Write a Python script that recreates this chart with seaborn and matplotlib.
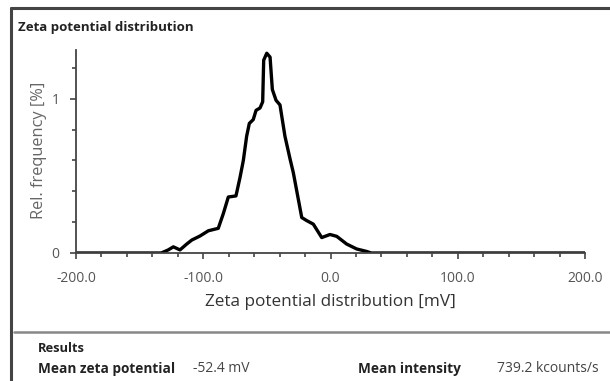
import matplotlib
matplotlib.use("Agg")
import matplotlib.pyplot as plt
import seaborn as sns
import pandas as pd
from matplotlib.lines import Line2D
from matplotlib.ticker import MultipleLocator

# ---- data ----
zeta_mv = [-200, -140, -133, -127.5, -123.5, -118.3, -113, -109, -102.6, -96,
           -88.2, -84.2, -80.3, -74.3, -71.1, -68.5, -65.9, -63.8, -60.7, -58.5,
           -55.4, -53.3, -52.5, -50.1, -47.5, -45.7, -42.8, -39.7, -35.8, -31.8,
           -29.2, -22.6, -18.7, -13.5, -6.9, -0.4, 4.9, 12.7, 20.6, 28.4, 32, 200]
rel_freq = [0, 0, 0.0, 0.02, 0.04, 0.02, 0.058, 0.084, 0.11, 0.144,
            0.16, 0.256, 0.363, 0.37, 0.49, 0.60, 0.757, 0.84, 0.865, 0.925,
            0.94, 0.98, 1.25, 1.295, 1.27, 1.06, 0.99, 0.96, 0.757, 0.61,
            0.52, 0.23, 0.21, 0.187, 0.10, 0.12, 0.108, 0.058, 0.026, 0.01, 0, 0]
x_ticks = [-200, -100, 0, 100, 200]
x_tick_labels = ["-200.0", "-100.0", "0.0", "100.0", "200.0"]
y_ticks = [0, 1]
y_tick_labels = ["0", "1"]
title = "Zeta potential distribution"
x_label = "Zeta potential distribution [mV]"
y_label = "Rel. frequency [%]"
results_title = "Results"
result_names = ["Mean zeta potential", "Mean intensity"]
result_values = ["-52.4 mV", "739.2 kcounts/s"]

sns.set_theme(style="white")
plt.rcParams["font.family"] = ["Open Sans", "DejaVu Sans"]

W, H = 610, 381
fig = plt.figure(figsize=(W / 100, H / 100), dpi=100)
fig.patch.set_facecolor("white")

def fx(px):
    return px / W

def fy(py):
    return 1 - py / H

ax = fig.add_axes([fx(76), fy(253), fx(585) - fx(76), (253 - 50) / H])
df = pd.DataFrame({"zeta": zeta_mv, "freq": rel_freq})
sns.lineplot(data=df, x="zeta", y="freq", ax=ax, color="black", linewidth=2.4,
             sort=False, estimator=None)

ax.set_xlim(-200, 200)
ax.set_ylim(0, 1.316)
ax.set_facecolor("white")
for s in ["top", "right"]:
    ax.spines[s].set_visible(False)
axis_col = "#444444"
for s in ["left", "bottom"]:
    ax.spines[s].set_color(axis_col)
    ax.spines[s].set_linewidth(1.3)

ax.set_xticks(x_ticks)
ax.set_xticklabels(x_tick_labels)
ax.xaxis.set_minor_locator(MultipleLocator(20))
ax.set_yticks(y_ticks)
ax.set_yticklabels(y_tick_labels)
ax.yaxis.set_minor_locator(MultipleLocator(0.2))
ax.tick_params(axis="both", which="both", direction="out", color=axis_col,
               width=1.2, bottom=True, left=True)
ax.tick_params(axis="both", which="major", length=4, labelsize=10,
               labelcolor="#555555")
ax.tick_params(axis="x", which="major", pad=9)
ax.tick_params(axis="y", which="major", pad=8)
ax.tick_params(axis="both", which="minor", length=3)

ax.set_xlabel(x_label, fontsize=12.3, color="#333333")
ax.xaxis.label.set_va("center")
ax.xaxis.set_label_coords(0.5, (253 - 302) / 203)
ax.set_ylabel(y_label, fontsize=11.8, color="#666666")
ax.yaxis.label.set_va("center")
ax.yaxis.set_label_coords((39 - 76) / 509, (253 - 150) / 203)

# frame lines
fig.add_artist(Line2D([fx(11), fx(11)], [fy(7.5), 0], color="#444444", lw=2.2))
fig.add_artist(Line2D([fx(11), 1], [fy(7.5), fy(7.5)], color="#444444", lw=2.2))
fig.add_artist(Line2D([fx(14), 1], [fy(331.5), fy(331.5)], color="#888888", lw=1.8))

fig.text(fx(18), fy(27), title, fontsize=9.5, fontweight="bold", color="#222222",
         va="center", ha="left")
fig.text(fx(38), fy(349), results_title, fontsize=9.3, fontweight="bold",
         color="#222222", va="center", ha="left")
fig.text(fx(38), fy(369), result_names[0], fontsize=9.8, fontweight="bold",
         color="#222222", va="center", ha="left")
fig.text(fx(193), fy(369), result_values[0], fontsize=10, color="#444444",
         va="center", ha="left")
fig.text(fx(358), fy(369), result_names[1], fontsize=9.8, fontweight="bold",
         color="#222222", va="center", ha="left")
fig.text(fx(497), fy(369), result_values[1], fontsize=10, color="#444444",
         va="center", ha="left")

fig.savefig("out.png", dpi=100, facecolor="white")
